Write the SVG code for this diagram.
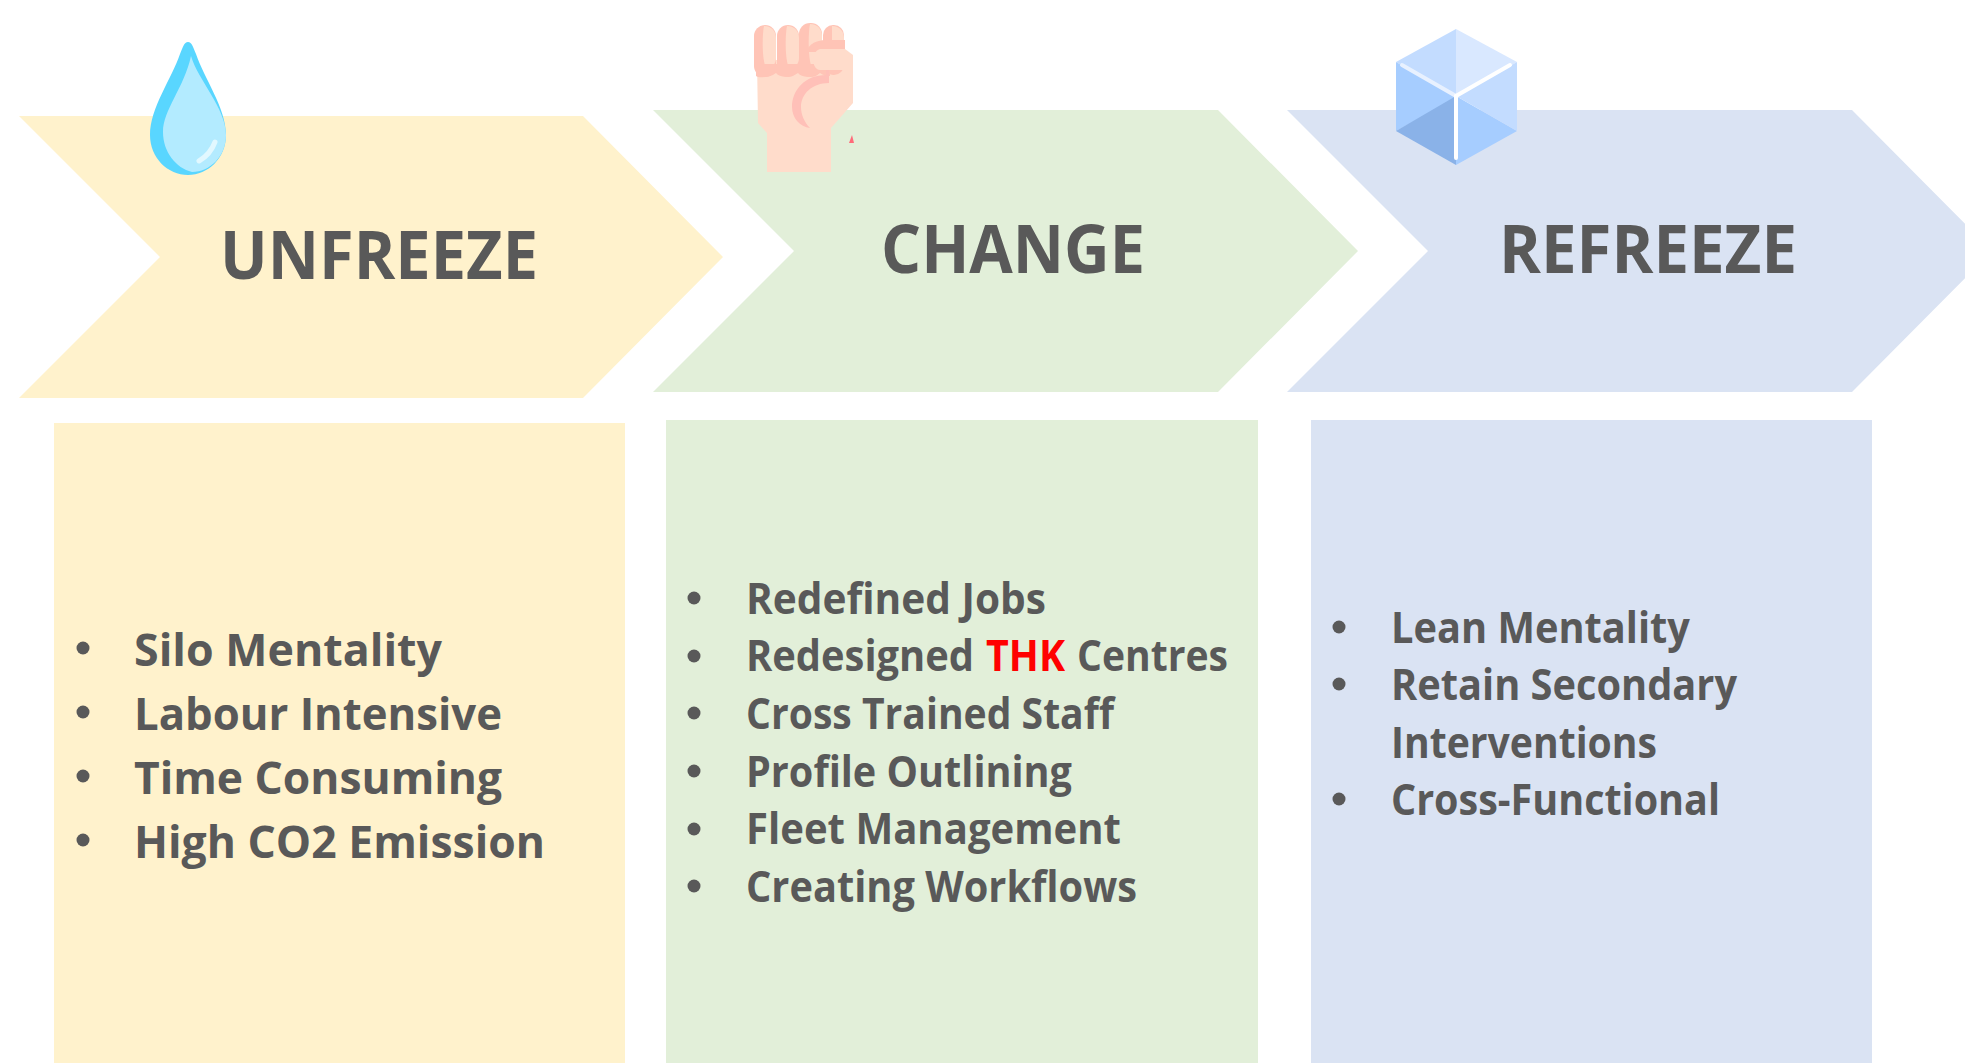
<svg xmlns="http://www.w3.org/2000/svg" width="1965" height="1063" viewBox="0 0 1965 1063">
<style>
.t{font-family:"Open Sans","Noto Sans","Liberation Sans",sans-serif;font-weight:700;fill:#595959}
.h{font-size:66px;text-anchor:middle}
.l{font-size:45px}
.y{fill:#fff2cc}.g{fill:#e2efd9}.b{fill:#dae3f3}
.sk{fill:#ffdccb}.dk{fill:#ffc4b6}
</style>
<rect width="1965" height="1063" fill="#fff"/>
<g id="unfreeze">
<path class="y" d="M19 116H583L723 257L583 398H19L160 257Z"/>
<text class="t h" x="379" y="279" textLength="318" lengthAdjust="spacingAndGlyphs">UNFREEZE</text>
<rect class="y" x="54" y="423" width="571" height="640"/>
<g class="t l" id="unfreeze-list">
<circle cx="83" cy="648" r="6.5"/><text x="134" y="666" textLength="308" lengthAdjust="spacingAndGlyphs">Silo Mentality</text>
<circle cx="83" cy="712" r="6.5"/><text x="134" y="730" textLength="368" lengthAdjust="spacingAndGlyphs">Labour Intensive</text>
<circle cx="83" cy="776" r="6.5"/><text x="134" y="794" textLength="368" lengthAdjust="spacingAndGlyphs">Time Consuming</text>
<circle cx="83" cy="840" r="6.5"/><text x="134" y="858" textLength="411" lengthAdjust="spacingAndGlyphs">High CO2 Emission</text>
</g>
</g>
<g id="change">
<path class="g" d="M653 110H1218L1358 251L1218 392H653L794 251Z"/>
<text class="t h" x="1013" y="273" textLength="264" lengthAdjust="spacingAndGlyphs">CHANGE</text>
<rect class="g" x="666" y="420" width="592" height="643"/>
<g class="t l" id="change-list" style="font-size:43px">
<circle cx="694" cy="598" r="6.5"/><text x="746" y="614" textLength="300" lengthAdjust="spacingAndGlyphs">Redefined Jobs</text>
<circle cx="694" cy="656" r="6.5"/><text x="746" y="671" textLength="228" lengthAdjust="spacingAndGlyphs">Redesigned</text><text x="986" y="671" fill="#ff0000" style="fill:#ff0000" textLength="79" lengthAdjust="spacingAndGlyphs">THK</text><text x="1077" y="671" textLength="151" lengthAdjust="spacingAndGlyphs">Centres</text>
<circle cx="694" cy="713" r="6.5"/><text x="746" y="729" textLength="368" lengthAdjust="spacingAndGlyphs">Cross Trained Staff</text>
<circle cx="694" cy="771" r="6.5"/><text x="746" y="787" textLength="326" lengthAdjust="spacingAndGlyphs">Profile Outlining</text>
<circle cx="694" cy="829" r="6.5"/><text x="746" y="844" textLength="375" lengthAdjust="spacingAndGlyphs">Fleet Management</text>
<circle cx="694" cy="886" r="6.5"/><text x="746" y="902" textLength="391" lengthAdjust="spacingAndGlyphs">Creating Workflows</text>
</g>
</g>
<g id="refreeze">
<path class="b" d="M1287 110H1852L1992 251L1852 392H1287L1428 251Z"/>
<text class="t h" x="1648" y="273" textLength="298" lengthAdjust="spacingAndGlyphs">REFREEZE</text>
<rect class="b" x="1311" y="420" width="561" height="643"/>
<g class="t l" id="refreeze-list" style="font-size:43px">
<circle cx="1339" cy="627" r="6.5"/><text x="1391" y="643" textLength="299" lengthAdjust="spacingAndGlyphs">Lean Mentality</text>
<circle cx="1339" cy="684" r="6.5"/><text x="1391" y="700" textLength="346" lengthAdjust="spacingAndGlyphs">Retain Secondary</text>
<text x="1391" y="758" textLength="266" lengthAdjust="spacingAndGlyphs">Interventions</text>
<circle cx="1339" cy="799" r="6.5"/><text x="1391" y="815" textLength="329" lengthAdjust="spacingAndGlyphs">Cross-Functional</text>
</g>
</g>
<g id="drop-icon">
<path fill="#59d6ff" d="M188 42C192 42 193 47 196 54C204 78 226 108 226 135C226 158 208 175 188 175C168 175 150 158 150 135C150 108 172 78 180 54C183 47 184 42 188 42Z"/>
<path fill="#b3ebff" d="M191 56C198 80 226 108 226 135C226 156 210 172 192 172C176 168 163 152 163 132C163 110 184 88 191 56Z"/>
<path fill="none" stroke="#e2f8ff" stroke-width="5" stroke-linecap="round" d="M199 161C206 157 212 150 215 142"/>
</g>
<g id="fist-icon">
<path class="sk" d="M757 60H853V103L831 128V172H767V133L758 123Z"/>
<rect class="dk" x="754" y="25" width="22" height="52" rx="11"/>
<rect class="dk" x="777" y="25" width="22" height="52" rx="11"/>
<rect class="dk" x="799" y="23" width="23" height="54" rx="11"/>
<rect class="dk" x="823" y="25" width="21" height="50" rx="10"/>
<path class="sk" d="M764 26C772 26 776 32 776 38V58C776 64 772 68 766 68C762 60 762 36 764 26Z"/>
<path class="sk" d="M787 26C795 26 799 32 799 38V58C799 64 795 68 789 68C785 60 785 36 787 26Z"/>
<path class="sk" d="M810 24C818 24 822 30 822 36V58C822 64 818 68 812 68C808 60 808 34 810 24Z"/>
<path class="sk" d="M832 26C840 26 844 32 844 38V58H832Z"/>
<path class="dk" d="M756 64H830V76C826 76 822 75 820 73C812 78 802 78 798 73C790 78 780 78 776 73C770 78 758 78 756 76Z"/>
<path class="dk" d="M808 48C812 42 820 40 826 40H845V52H808Z"/>
<path class="sk" d="M820 49H845L853 55V70H820C812 70 810 52 820 49Z"/>
<path fill="#ffc0b8" d="M829 70V83C812 83 801 94 801 107C801 114 804 122 810 128C800 127 792 118 792 107C792 90 805 75 826 75V70Z"/>
<polygon fill="#ff6b7a" points="852,135 854,143 849,143"/>
</g>
<g id="ice-icon">
<path fill="#c3dcff" d="M1456 29V96L1396 62Z"/>
<path fill="#d9e8ff" d="M1456 29L1517 62L1456 96Z"/>
<path fill="#a6cdff" d="M1396 62L1456 96V98L1396 131Z"/>
<path fill="#8ab2e8" d="M1396 131L1456 96V165Z"/>
<path fill="#a6cdff" d="M1456 96V165L1517 131Z"/>
<path fill="#c3dcff" d="M1456 96L1517 62V131Z"/>
<path fill="none" stroke="#e8f1ff" stroke-width="4" stroke-linecap="round" d="M1402 65L1456 96"/>
<path fill="none" stroke="#fff" stroke-width="4" stroke-linecap="round" d="M1510 65L1456 96V158"/>
</g>
<g id="connectors"/>
</svg>
